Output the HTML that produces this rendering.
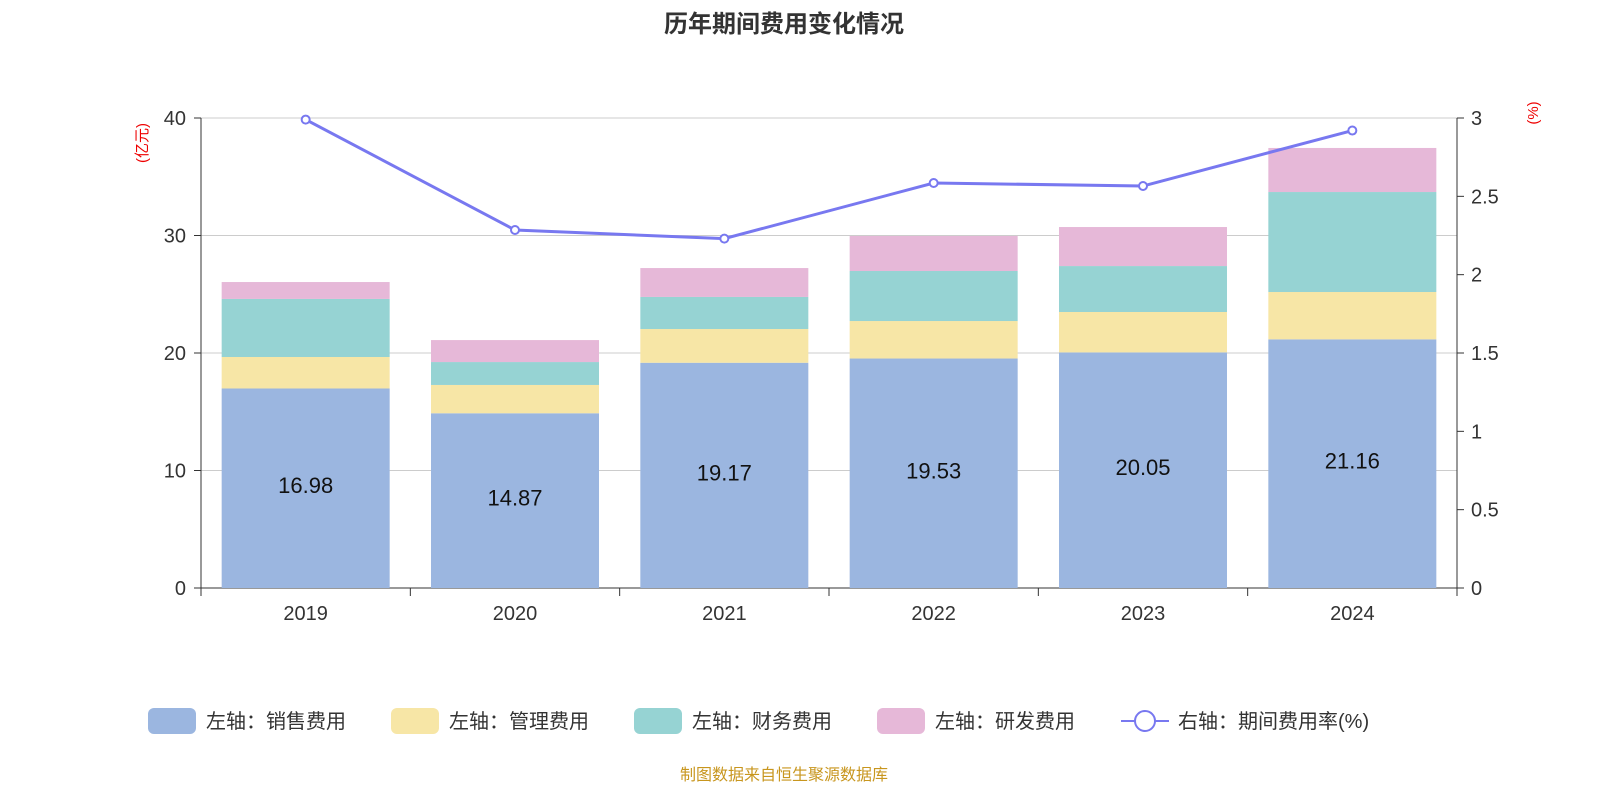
<!DOCTYPE html>
<html><head><meta charset="utf-8"><style>
body{margin:0;background:#fff;font-family:"Liberation Sans","Noto Sans CJK SC",sans-serif;}
svg text{font-family:"Liberation Sans","Noto Sans CJK SC",sans-serif;}
</style></head><body>
<svg id="chart" width="1600" height="800">
<text x="784" y="32" text-anchor="middle" font-size="24" font-weight="bold" fill="#333">历年期间费用变化情况</text>
<g id="grid"></g><g id="bars"></g><g id="line"></g><g id="axes"></g>
<text transform="translate(147,143) rotate(-90)" text-anchor="middle" font-size="15" fill="#e00">(亿元)</text>
<text transform="translate(1538,113) rotate(-90)" text-anchor="middle" font-size="15" fill="#e00">(%)</text>
<g font-size="20" fill="#333">
<g><rect x="148" y="708" width="48" height="26" rx="6" fill="#9bb6e0"/><text x="206" y="728">左轴：销售费用</text></g>
<g><rect x="391" y="708" width="48" height="26" rx="6" fill="#f7e6a6"/><text x="449" y="728">左轴：管理费用</text></g>
<g><rect x="634" y="708" width="48" height="26" rx="6" fill="#96d3d3"/><text x="692" y="728">左轴：财务费用</text></g>
<g><rect x="877" y="708" width="48" height="26" rx="6" fill="#e6b8d8"/><text x="935" y="728">左轴：研发费用</text></g>
<g><line x1="1121" y1="721" x2="1169" y2="721" stroke="#7878f0" stroke-width="2"/><circle cx="1145" cy="721" r="10" fill="#fff" stroke="#7878f0" stroke-width="2"/><text x="1178" y="728">右轴：期间费用率(%)</text></g>
</g>
<text x="784" y="780" text-anchor="middle" font-size="16" fill="#c8961e">制图数据来自恒生聚源数据库</text>
</svg>
<script>
const years=["2019","2020","2021","2022","2023","2024"];
const sales=[16.98,14.87,19.17,19.53,20.05,21.16];
const admin=[2.68,2.41,2.87,3.19,3.44,4.03];
const finance=[4.94,1.95,2.73,4.26,3.91,8.51];
const rd=[1.44,1.87,2.46,2.98,3.32,3.75];
const rate=[2.99,2.285,2.23,2.585,2.566,2.92];
const leftTicks=[0,10,20,30,40];
const rightTicks=["0","0.5","1","1.5","2","2.5","3"];
const NS="http://www.w3.org/2000/svg";
const x0=201,x1=1457,y0=588,yTop=118;
const band=(x1-x0)/years.length;
const yL=v=>y0-v/40*(y0-yTop);
const yR=v=>y0-v/3*(y0-yTop);
const xC=i=>x0+band*(i+0.5);
function mk(tag,attrs,parent){const e=document.createElementNS(NS,tag);for(const k in attrs)e.setAttribute(k,attrs[k]);document.getElementById(parent).appendChild(e);return e;}
leftTicks.forEach(t=>{
 const g=mk('line',{x1:x0,x2:x1,y1:yL(t),y2:yL(t),stroke:t===0?'#333':'#ccc','stroke-width':1},'grid');
 
 
 const tx=mk('text',{x:186,y:yL(t)+7,'text-anchor':'end','font-size':20,fill:'#333'},'axes');tx.textContent=t;
 
 
 mk('line',{x1:194,x2:201,y1:yL(t),y2:yL(t),stroke:'#333'},'axes');
});
rightTicks.forEach(t=>{
 const tx=mk('text',{x:1471,y:yR(+t)+7,'font-size':20,fill:'#333'},'axes');tx.textContent=t;
 
 
 mk('line',{x1:1457,x2:1464,y1:yR(+t),y2:yR(+t),stroke:'#333'},'axes');
});
mk('line',{x1:x0,x2:x0,y1:yTop,y2:y0,stroke:'#333'},'axes');
mk('line',{x1:x1,x2:x1,y1:yTop,y2:y0,stroke:'#333'},'axes');
for(let i=0;i<=years.length;i++)mk('line',{x1:x0+band*i,x2:x0+band*i,y1:y0,y2:y0+8,stroke:'#333'},'axes');
const series=[[sales,'#9bb6e0','bar-sales'],[admin,'#f7e6a6','bar-admin'],[finance,'#96d3d3','bar-finance'],[rd,'#e6b8d8','bar-rd']];
const bw=168;
years.forEach((y,i)=>{
 let base=0;
 series.forEach(([arr,c,n])=>{
  const r=mk('rect',{x:xC(i)-bw/2,y:yL(base+arr[i]),width:bw,height:yL(base)-yL(base+arr[i]),fill:c},'bars');
  
  
  base+=arr[i];
 });
 const lb=mk('text',{x:xC(i),y:(yL(0)+yL(sales[i]))/2+5,'text-anchor':'middle','font-size':22,fill:'#111'},'bars');lb.textContent=sales[i].toFixed(2);
 
 
 const xl=mk('text',{x:xC(i),y:620,'text-anchor':'middle','font-size':20,fill:'#333'},'axes');xl.textContent=y;
 
 
});
const pl=mk('polyline',{points:rate.map((v,i)=>xC(i)+','+yR(v)).join(' '),fill:'none',stroke:'#7878f0','stroke-width':3},'line');


rate.forEach((v,i)=>{
 const c=mk('circle',{cx:xC(i),cy:yR(v),r:4,fill:'#fff',stroke:'#7878f0','stroke-width':2},'line');
 
 
});
</script>
</body></html>
